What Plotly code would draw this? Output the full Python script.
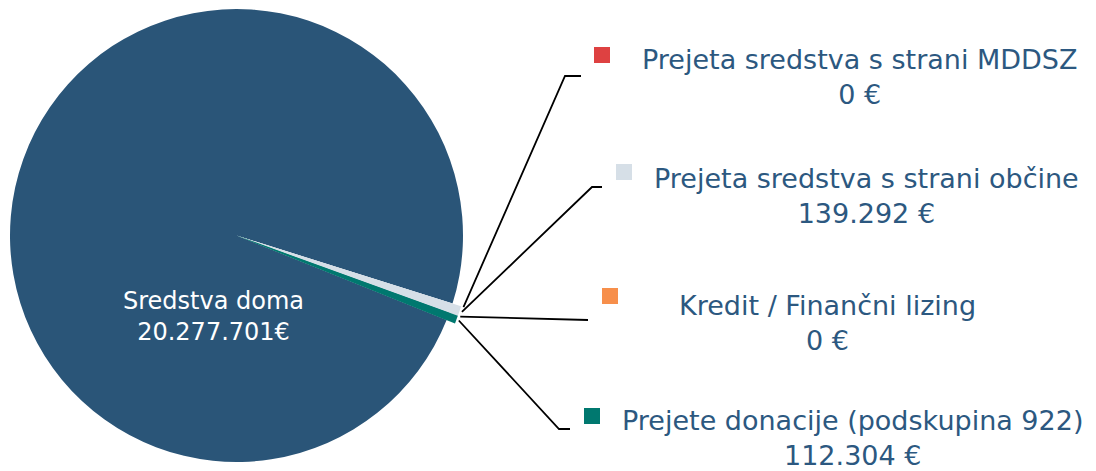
import math
import plotly.graph_objects as go

# Funding sources (EUR)
categories = [
    "Sredstva doma",
    "Prejeta sredstva s strani MDDSZ",
    "Prejeta sredstva s strani občine",
    "Kredit / Finančni lizing",
    "Prejete donacije (podskupina 922)",
]
values = [20277701, 0, 139292, 0, 112304]
value_labels = ["20.277.701€", "0 €", "139.292 €", "0 €", "112.304 €"]
colors = ["#2A5578", "#DE4141", "#D6DFE7", "#F78F4B", "#00786F"]

W, H = 1096, 471
TEXT_COLOR = "#2C5880"
FONT = "DejaVu Sans"


def px(x):
    return x / W


def py(y):
    return 1 - y / H


# pie geometry (pixels)
cx, cy = 236.5, 235.5
r_main = 226.5
r_small = 235.5
start_small = 107.5  # clockwise from 12 o'clock, where the small slices begin

total = sum(values)
rotation = start_small + 360.0 - 360.0 * values[0] / total

fig = go.Figure()

# main pie
fig.add_trace(go.Pie(
    values=values,
    labels=categories,
    marker=dict(colors=colors, line=dict(width=0)),
    sort=False,
    direction="clockwise",
    rotation=rotation,
    textinfo="none",
    hoverinfo="skip",
    showlegend=False,
    domain=dict(x=[px(cx - r_main), px(cx + r_main)],
                y=[py(cy + r_main), py(cy - r_main)]),
))

# small slices drawn a little larger on top
fig.add_trace(go.Pie(
    values=values,
    labels=categories,
    marker=dict(colors=["rgba(0,0,0,0)"] + colors[1:], line=dict(width=0)),
    sort=False,
    direction="clockwise",
    rotation=rotation,
    textinfo="none",
    hoverinfo="skip",
    showlegend=False,
    domain=dict(x=[px(cx - r_small), px(cx + r_small)], y=[0, 1]),
))

# slice mid-angles for the leader lines
angles = []
acc = 0.0
for v in values:
    mid = rotation + 360.0 * (acc + v / 2) / total
    angles.append(mid % 360)
    acc += v

r_lead = 238.0
shapes = []
annotations = []

# label layout (pixels): line bend point, line end, marker centre, text centre
label_layout = [
    None,
    dict(bend=(565, 76), end=(581, 76), sq=(602, 55), txt=(860, 77)),
    dict(bend=(592, 187), end=(602, 187), sq=(624, 172), txt=(866, 196)),
    dict(bend=None, end=(588, 320), sq=(610, 296), txt=(827, 323)),
    dict(bend=(559, 429), end=(570, 429), sq=(592, 416), txt=(852, 438)),
]

for i in range(1, len(values)):
    lay = label_layout[i]
    a = math.radians(angles[i])
    sx = cx + r_lead * math.sin(a)
    sy = cy - r_lead * math.cos(a)
    pts = [(sx, sy)]
    if lay["bend"]:
        pts.append(lay["bend"])
    pts.append(lay["end"])
    path = "M " + " L ".join(f"{px(x):.5f},{py(y):.5f}" for x, y in pts)
    shapes.append(dict(type="path", path=path, xref="paper", yref="paper",
                       line=dict(color="black", width=1.8)))
    qx, qy = lay["sq"]
    shapes.append(dict(type="rect", xref="paper", yref="paper",
                       x0=px(qx - 8), x1=px(qx + 8), y0=py(qy + 8), y1=py(qy - 8),
                       fillcolor=colors[i], line=dict(width=0)))
    tx, ty = lay["txt"]
    annotations.append(dict(
        x=px(tx), y=py(ty), xref="paper", yref="paper",
        xanchor="center", yanchor="middle", showarrow=False,
        text=f"{categories[i]}<br>{value_labels[i]}",
        font=dict(family=FONT, size=27, color=TEXT_COLOR),
        align="center",
    ))

# label inside the main slice
annotations.append(dict(
    x=px(213), y=py(316), xref="paper", yref="paper",
    xanchor="center", yanchor="middle", showarrow=False,
    text=f"{categories[0]}<br>{value_labels[0]}",
    font=dict(family=FONT, size=24, color="white"),
    align="center",
))

fig.update_layout(
    width=W, height=H,
    margin=dict(l=0, r=0, t=0, b=0),
    paper_bgcolor="white",
    plot_bgcolor="white",
    shapes=shapes,
    annotations=annotations,
)

fig.write_html("out.html")
